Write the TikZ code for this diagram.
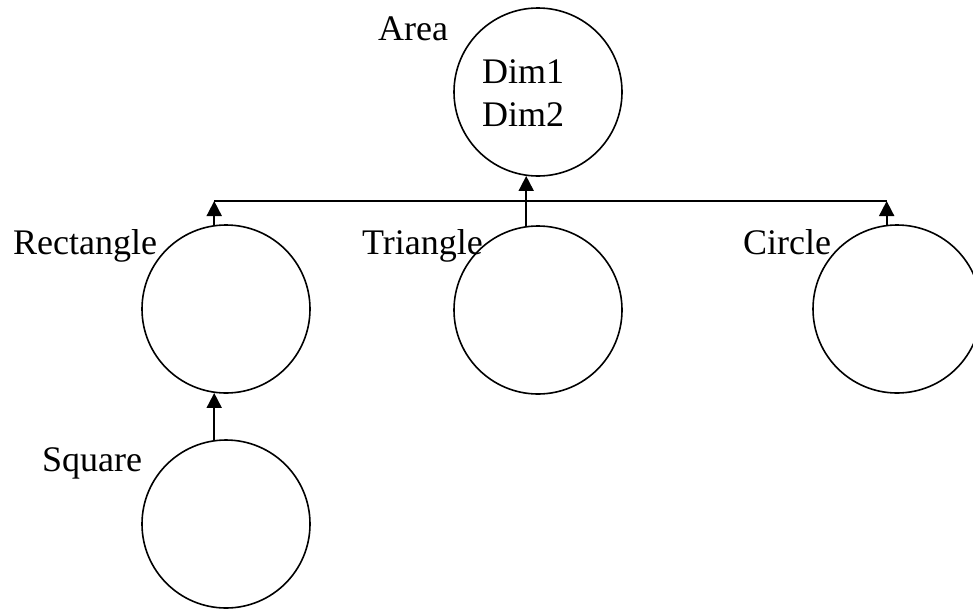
\documentclass[tikz,border=0pt]{standalone}
\usepackage{fontspec}
\setmainfont{Liberation Serif}
\usetikzlibrary{arrows.meta}
\begin{document}
\begin{tikzpicture}[x=1pt,y=-1pt,
  cls/.style={draw,circle,minimum size=168pt,inner sep=0pt,line width=1.6pt},
  lbl/.style={anchor=base west,inner sep=0pt,font=\fontsize{36}{40}\selectfont},
  arr/.style={line width=1.8pt,-{Triangle[length=15pt,width=15pt]}},
  bar/.style={line width=1.8pt}]
\useasboundingbox (0,0) rectangle (973,608);
\node[cls] (area) at (538,92) {};
\node[cls] (rect) at (226,309) {};
\node[cls] (tri) at (538,310) {};
\node[cls] (circ) at (897,309) {};
\node[cls] (sq) at (226,524) {};
\node[lbl] (tarea) at (378,40) {Area};
\node[lbl] (dim1) at (482,83) {Dim1};
\node[lbl] (dim2) at (482,126) {Dim2};
\node[lbl] (trect) at (13,254) {Rectangle};
\node[lbl] (ttri) at (362,254) {Triangle};
\node[lbl] (tcirc) at (743,254) {Circle};
\node[lbl] (tsq) at (42,471) {Square};
\coordinate (barL) at (214,201);
\coordinate (barR) at (887,201);
\draw[bar] (barL) -- (barR);
\draw[arr] (rect.98) -- (rect.98 |- barL);
\draw[arr] (circ.97) -- (circ.97 |- barR);
\draw[arr] (tri.98) -- (area.262);
\draw[arr] (sq.98) -- (rect.262);
\end{tikzpicture}
\end{document}
